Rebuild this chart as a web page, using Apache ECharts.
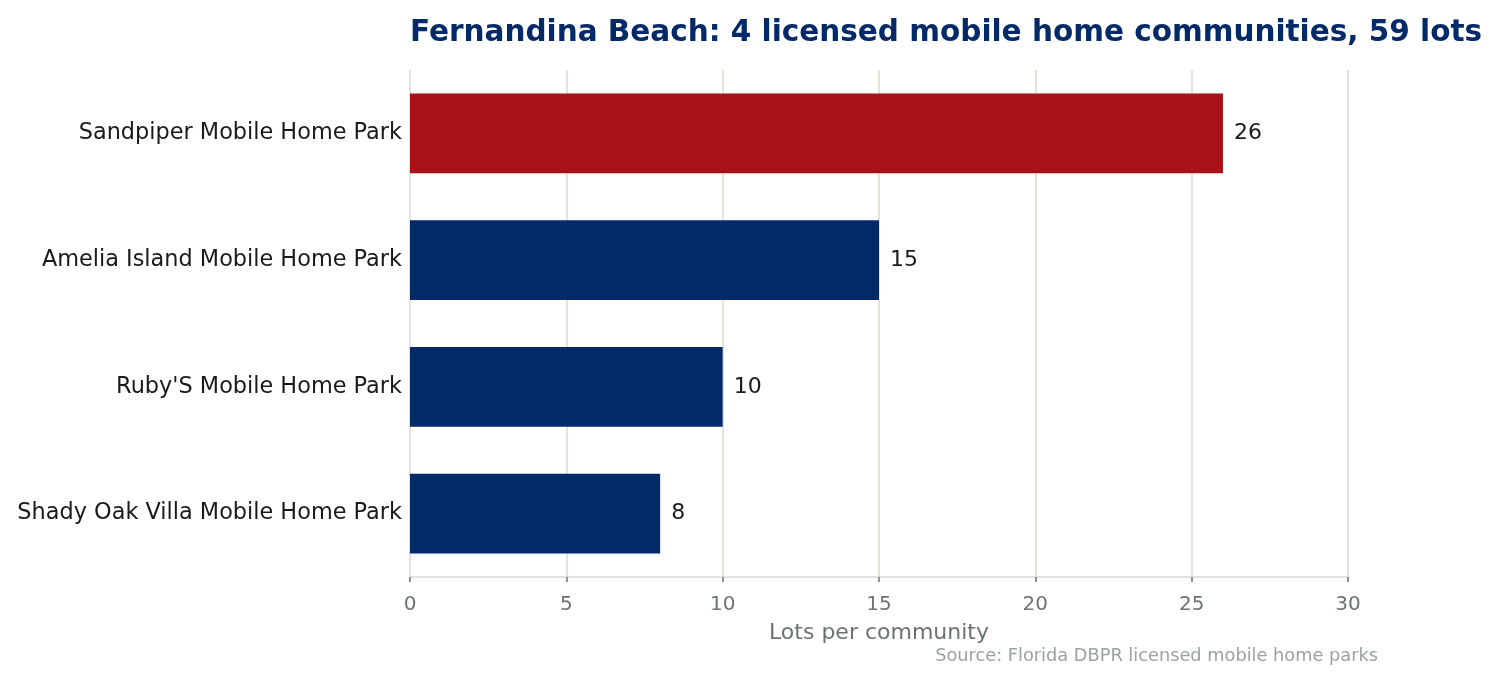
<!DOCTYPE html>
<html>
<head>
<meta charset="utf-8">
<script src="https://cdn.jsdelivr.net/npm/echarts@6/dist/echarts.min.js"></script>
<style>
  html, body { margin: 0; padding: 0; background: #fff; }
  #chart { width: 1499px; height: 680px; }
</style>
</head>
<body>
<div id="chart"></div>
<script>
// data, top to bottom as shown
var parks = ['Sandpiper Mobile Home Park', 'Amelia Island Mobile Home Park', "Ruby'S Mobile Home Park", 'Shady Oak Villa Mobile Home Park'];
var lots = [26, 15, 10, 8];
var highlight = [true, false, false, false];
var xTicks = [0, 5, 10, 15, 20, 25, 30];

var FONT = 'DejaVu Sans';
var chart = echarts.init(document.getElementById('chart'));

var option = {
    animation: false,
    textStyle: { fontFamily: FONT },
    title: {
        text: 'Fernandina Beach: 4 licensed mobile home communities, 59 lots',
        left: 405,
        top: 13,
        textStyle: { fontFamily: FONT, fontSize: 29.5, fontWeight: 'bold', color: '#022968' }
    },
    grid: { left: 410, right: 151, top: 70, bottom: 103, containLabel: false },
    xAxis: {
        type: 'value',
        min: xTicks[0],
        max: xTicks[xTicks.length - 1],
        interval: 5,
        name: 'Lots per community',
        nameLocation: 'middle',
        nameGap: 45,
        nameTextStyle: { fontSize: 22, color: '#6b7472' },
        axisLine: { show: true, lineStyle: { color: '#dcd9d0', width: 1.5 } },
        axisTick: { show: true, length: 5, lineStyle: { color: '#6b7472', width: 1.5 } },
        axisLabel: { fontSize: 20, color: '#6b7472', margin: 18 },
        splitLine: { show: true, lineStyle: { color: '#dcd9d0', width: 1.5 } }
    },
    yAxis: {
        type: 'category',
        inverse: true,
        data: parks,
        axisLine: { show: false },
        axisTick: { show: false },
        axisLabel: { fontSize: 22.4, color: '#1a1a1a', margin: 8, padding: [4, 0, 0, 0] }
    },
    series: [{
        type: 'bar',
        barWidth: '63%',
        data: lots.map(function (v, i) {
            return { value: v, itemStyle: { color: highlight[i] ? '#a81115' : '#022968' } };
        }),
        label: { show: true, position: 'right', distance: 11, fontSize: 22, color: '#1a1a1a' }
    }],
    graphic: [{
        type: 'text',
        right: 121,
        top: 647,
        style: { text: 'Source: Florida DBPR licensed mobile home parks', font: '17.75px "DejaVu Sans"', fill: '#9aa3a0' }
    }]
};

chart.setOption(option);
</script>
</body>
</html>
